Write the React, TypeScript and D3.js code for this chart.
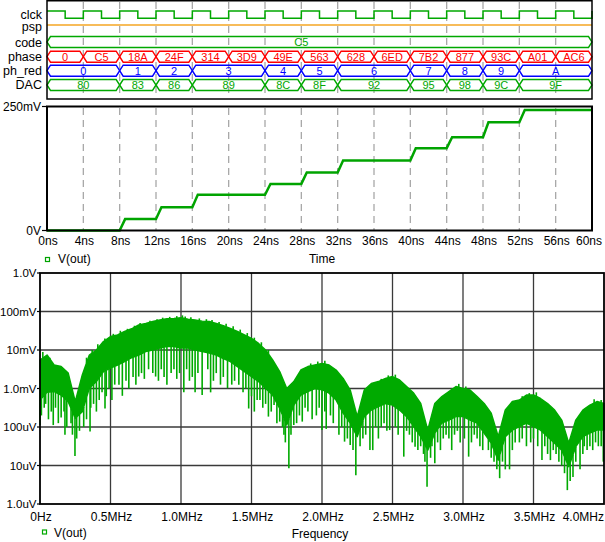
import React from 'react';
import * as d3 from 'd3';

// ---------- digital waveforms ----------
const timeTicks = [0, 4, 8, 12, 16, 20, 24, 28, 32, 36, 40, 44, 48, 52, 56, 60];
const timeTickLabels = ['0ns','4ns','8ns','12ns','16ns','20ns','24ns','28ns','32ns','36ns','40ns','44ns','48ns','52ns','56ns','60ns'];

const clkTimes = [0,2,4,6,8,10,12,14,16,18,20,22,24,26,28,30,32,34,36,38,40,42,44,46,48,50,52,54,56,58,60];
const clkLevels = [1,0,1,0,1,0,1,0,1,0,1,0,1,0,1,0,1,0,1,0,1,0,1,0,1,0,1,0,1,0,1];

const codeTimes = [-4];
const codeLabels = ['C5'];

const phaseTimes = [0,4,8,12,16,20,24,28,32,36,40,44,48,52,56];
const phaseLabels = ['0','C5','18A','24F','314','3D9','49E','563','628','6ED','7B2','877','93C','A01','AC6'];

const phRedTimes = [0,8,12,16,24,28,32,40,44,48,52];
const phRedLabels = ['0','1','2','3','4','5','6','7','8','9','A'];

const dacTimes = [0,8,12,16,24,28,32,40,44,48,52];
const dacLabels = ['80','83','86','89','8C','8F','92','95','98','9C','9F'];

// ---------- analog V(out) ----------
const voutTimes = [0, 8, 12, 16, 24, 28, 32, 40, 44, 48, 52];
const voutMv = [0, 23, 47, 72, 94, 117, 141, 166, 188, 218, 243];
const riseNs = 0.6;

// ---------- spectrum ----------
const specFreqMHz = [0,0.05,0.1,0.15,0.2,0.25,0.3,0.35,0.4,0.45,0.5,0.55,0.6,0.65,0.7,0.75,0.8,0.85,0.9,0.95,1.0,1.05,1.1,1.15,1.2,1.25,1.3,1.35,1.4,1.45,1.5,1.55,1.6,1.65,1.7,1.75,1.8,1.85,1.9,1.95,2.0,2.05,2.1,2.15,2.2,2.25,2.3,2.35,2.4,2.45,2.5,2.55,2.6,2.65,2.7,2.75,2.8,2.85,2.9,2.95,3.0,3.05,3.1,3.15,3.2,3.25,3.3,3.35,3.4,3.45,3.5,3.55,3.6,3.65,3.7,3.75,3.8,3.85,3.9,3.95,4.0];
const specHiLog10V = [-2.26,-2.13,-2.39,-2.43,-2.60,-3.34,-2.65,-2.13,-2.00,-1.78,-1.65,-1.61,-1.52,-1.45,-1.35,-1.31,-1.26,-1.22,-1.19,-1.18,-1.16,-1.20,-1.22,-1.25,-1.26,-1.31,-1.37,-1.44,-1.52,-1.61,-1.70,-1.83,-2.00,-2.26,-2.56,-3.00,-2.82,-2.52,-2.43,-2.39,-2.35,-2.39,-2.52,-2.74,-3.04,-3.73,-3.04,-2.87,-2.82,-2.74,-2.69,-2.78,-2.95,-3.12,-3.39,-4.08,-3.39,-3.21,-3.08,-2.95,-3.00,-3.04,-3.21,-3.39,-3.64,-4.25,-3.56,-3.34,-3.30,-3.17,-3.17,-3.26,-3.39,-3.56,-3.82,-4.42,-3.82,-3.56,-3.43,-3.34,-3.39];
const specLoLog10V = [-3.30,-3.10,-3.08,-3.17,-3.34,-3.77,-3.60,-2.99,-2.82,-2.56,-2.47,-2.39,-2.30,-2.20,-2.13,-2.04,-2.00,-1.95,-1.91,-1.91,-1.95,-1.95,-2.00,-2.04,-2.08,-2.13,-2.22,-2.30,-2.43,-2.56,-2.69,-2.82,-3.00,-3.17,-3.52,-3.95,-3.43,-3.17,-3.08,-3.00,-3.03,-3.12,-3.30,-3.64,-3.90,-4.25,-3.73,-3.56,-3.47,-3.39,-3.43,-3.56,-3.73,-3.99,-4.25,-4.60,-4.16,-3.90,-3.82,-3.73,-3.73,-3.82,-3.90,-4.16,-4.42,-4.86,-4.25,-4.08,-3.99,-3.90,-3.99,-4.08,-4.25,-4.42,-4.60,-5.03,-4.51,-4.25,-4.16,-4.08,-4.08];

// downward noise spikes (frequency MHz, log10 V)
const spikeFreqMHz = [0.0,0.01,0.03,0.04,0.06,0.08,0.094,0.11,0.13,0.15,0.17,0.177,0.19,0.22,0.23,0.248,0.26,0.28,0.31,0.33,0.355,0.36,0.38,0.40,0.42,0.44,0.461,0.47,0.49,0.51,0.53,0.56,0.584,0.61,0.63,0.66,0.68,0.70,0.72,0.74,0.77,0.80,0.82,0.84,0.86,0.88,0.90,0.93,0.95,0.97,0.99,1.02,1.04,1.06,1.08,1.10,1.12,1.15,1.19,1.21,1.23,1.25,1.28,1.30,1.33,1.36,1.38,1.41,1.44,1.46,1.48,1.50,1.52,1.54,1.56,1.58,1.60,1.62,1.64,1.66,1.68,1.70,1.72,1.73,1.74,1.765,1.78,1.80,1.82,1.84,1.86,1.88,1.90,1.93,1.96,1.98,2.00,2.02,2.03,2.06,2.08,2.12,2.14,2.16,2.18,2.20,2.22,2.24,2.27,2.29,2.31,2.34,2.36,2.38,2.40,2.42,2.44,2.46,2.48,2.52,2.54,2.58,2.60,2.62,2.64,2.66,2.68,2.70,2.72,2.73,2.745,2.77,2.78,2.80,2.82,2.84,2.86,2.88,2.90,2.92,2.94,2.96,2.98,3.01,3.04,3.06,3.08,3.10,3.12,3.14,3.18,3.20,3.22,3.24,3.26,3.28,3.30,3.33,3.35,3.37,3.40,3.42,3.45,3.48,3.50,3.53,3.56,3.58,3.60,3.62,3.64,3.66,3.68,3.70,3.72,3.74,3.76,3.78,3.80,3.83,3.85,3.86,3.88,3.90,3.92,3.94,3.96,3.98,3.995];
const spikeLog10V = [-3.95,-3.7,-3.5,-3.4,-3.8,-3.6,-3.95,-3.5,-3.9,-3.75,-3.6,-4.2,-4.0,-3.9,-4.2,-4.75,-4.3,-4.1,-4.0,-3.8,-4.12,-3.5,-3.4,-3.6,-3.3,-3.1,-3.52,-3.2,-3.0,-3.3,-2.9,-2.9,-3.19,-2.8,-3.0,-2.7,-2.9,-2.69,-2.6,-2.75,-2.5,-2.6,-2.69,-2.8,-2.5,-2.7,-2.9,-2.6,-2.5,-2.75,-2.6,-3.1,-2.5,-2.8,-2.7,-3.1,-2.6,-3.17,-2.5,-3.1,-2.8,-2.6,-2.9,-2.7,-2.99,-2.9,-2.8,-2.9,-3.1,-3.0,-3.52,-3.2,-3.6,-3.3,-3.3,-3.5,-3.4,-3.73,-3.6,-3.43,-3.9,-3.86,-4.0,-4.2,-4.4,-5.07,-4.2,-3.95,-3.9,-3.7,-3.86,-3.5,-3.6,-3.8,-3.7,-3.5,-4.08,-3.6,-4.05,-3.7,-3.9,-4.2,-4.0,-4.38,-4.3,-4.47,-4.6,-5.25,-4.5,-4.3,-4.2,-4.6,-4.6,-4.0,-4.3,-4.0,-3.9,-4.1,-4.08,-4.0,-4.2,-4.77,-4.1,-4.2,-4.4,-4.51,-4.6,-4.5,-4.7,-4.9,-5.55,-4.8,-4.5,-4.94,-4.4,-4.6,-4.3,-4.2,-4.3,-4.6,-4.2,-4.1,-4.4,-4.3,-4.77,-4.4,-4.2,-4.3,-4.5,-4.6,-4.6,-4.8,-4.9,-5.1,-5.33,-4.9,-5.1,-5.1,-4.6,-4.4,-4.4,-4.3,-4.5,-4.4,-4.3,-4.5,-4.86,-4.5,-4.7,-4.86,-4.6,-4.7,-4.9,-5.0,-5.2,-5.64,-5.4,-5.3,-4.9,-5.1,-4.7,-4.5,-4.6,-4.5,-4.6,-4.4,-4.5,-4.5,-4.9];

// upward noise peaks above the band (frequency MHz, log10 V)
const peakFreqMHz = [0.02,0.07,0.33,0.37,0.41,0.46,0.52,0.57,0.62,0.67,0.71,0.78,0.83,0.87,0.92,0.97,1.01,1.03,1.07,1.13,1.18,1.22,1.27,1.32,1.37,1.42,1.47,1.52,1.57,1.62,1.92,1.97,2.02,2.42,2.47,2.52,2.92,2.97,3.02,3.42,3.47,3.52,3.93,3.98];
const peakLog10V = [-2.05,-2.2,-2.2,-2.0,-1.85,-1.7,-1.58,-1.5,-1.45,-1.37,-1.3,-1.24,-1.2,-1.16,-1.14,-1.12,-1.1,-1.13,-1.15,-1.18,-1.2,-1.22,-1.27,-1.32,-1.38,-1.47,-1.56,-1.68,-1.8,-2.0,-2.35,-2.3,-2.28,-2.75,-2.66,-2.64,-3.0,-2.88,-2.95,-3.2,-3.12,-3.1,-3.28,-3.3];

const freqTicksMHz = [0,0.5,1.0,1.5,2.0,2.5,3.0,3.5,4.0];
const freqTickLabels = ['0Hz','0.5MHz','1.0MHz','1.5MHz','2.0MHz','2.5MHz','3.0MHz','3.5MHz','4.0MHz'];
const magTicks = [1e-6,1e-5,1e-4,1e-3,1e-2,1e-1,1];
const magTickLabels = ['1.0uV','10uV','100uV','1.0mV','10mV','100mV','1.0V'];

const FONT = '"Liberation Sans", Arial, sans-serif';
const GREEN = '#00a400';
const DGREEN = '#00a800';
const SPEC = '#00aa00';

type Seg = { a: number; b: number; label: string };
function segs(times: number[], labels: string[], end: number): Seg[] {
  return times.map((t, i) => ({ a: t, b: i + 1 < times.length ? times[i + 1] : end, label: labels[i] }));
}

export default function App() {
  const xT = d3.scaleLinear().domain([0, 60]).range([47, 592]);
  const yV = d3.scaleLinear().domain([0, 250]).range([230.5, 106.5]);
  const xF = d3.scaleLinear().domain([0, 4]).range([40, 604]);
  const yF = d3.scaleLog().domain([1e-6, 1]).range([504, 273]);

  const busH = 5.5;
  const slope = 3.5;
  const busPath = (s: Seg, yc: number) => {
    const x0 = xT(Math.max(0, s.a));
    const x1 = xT(Math.min(60, s.b));
    const p = d3.path();
    p.moveTo(x0, yc);
    p.lineTo(x0 + slope, yc - busH);
    p.lineTo(x1 - slope, yc - busH);
    p.lineTo(x1, yc);
    p.lineTo(x1 - slope, yc + busH);
    p.lineTo(x0 + slope, yc + busH);
    p.closePath();
    return p.toString();
  };

  const buses = [
    { name: 'code', yc: 42, base: 46, color: DGREEN, data: segs(codeTimes, codeLabels, 60) },
    { name: 'phase', yc: 56.7, base: 60.7, color: '#ff0000', data: segs(phaseTimes, phaseLabels, 60) },
    { name: 'ph_red', yc: 70.7, base: 74.7, color: '#0000ff', data: segs(phRedTimes, phRedLabels, 60) },
    { name: 'DAC', yc: 85, base: 89, color: DGREEN, data: segs(dacTimes, dacLabels, 60) },
  ];

  const clkLine = d3.line<[number, number]>().x(d => xT(d[0])).y(d => (d[1] ? 11 : 18.3)).curve(d3.curveStepAfter);
  const clkPath = clkLine(clkTimes.map((t, i) => [t, clkLevels[i]] as [number, number]));

  const voutPts: [number, number][] = [[0, voutMv[0]]];
  for (let i = 1; i < voutTimes.length; i++) {
    voutPts.push([voutTimes[i], voutMv[i - 1]]);
    voutPts.push([voutTimes[i] + riseNs, voutMv[i]]);
  }
  voutPts.push([60, voutMv[voutMv.length - 1]]);
  const voutPath = d3.line<[number, number]>().x(d => xT(d[0])).y(d => yV(d[1]))(voutPts);

  const band = specFreqMHz.map((f, i) => ({ f, hi: Math.pow(10, specHiLog10V[i]), lo: Math.pow(10, specLoLog10V[i]) }));
  const areaPath = d3.area<typeof band[0]>().x(d => xF(d.f)).y0(d => yF(d.lo)).y1(d => yF(d.hi))(band);
  const loAt = d3.scaleLinear().domain(specFreqMHz).range(specLoLog10V);
  const hiAt = d3.scaleLinear().domain(specFreqMHz).range(specHiLog10V);

  const gridDash = '7,5';
  const labelStyle = { fontFamily: FONT, fontSize: 12.5, fill: '#000' } as const;
  const tickStyle = { fontFamily: FONT, fontSize: 12, fill: '#000' } as const;
  const magStyle = { fontFamily: FONT, fontSize: 11.5, fill: '#000' } as const;

  return (
    <div style={{ position: 'absolute', left: 0, top: 0 }}>
      <svg width={605} height={542} style={{ display: 'block', background: '#fff' }}>
        <rect x={0} y={0} width={605} height={542} fill="#fff" />

        {/* ===== digital panel ===== */}
        {timeTicks.slice(1, -1).map(t => (
          <line key={'dg' + t} x1={xT(t)} x2={xT(t)} y1={2} y2={98} stroke="#a8a8a8" strokeWidth={1.3} strokeDasharray={gridDash} />
        ))}
        {['clck', 'psp', 'code', 'phase', 'ph_red', 'DAC'].map((n, i) => (
          <text key={n} x={42} y={[18.5, 31, 46.5, 60.7, 74.5, 89][i]} textAnchor="end" style={labelStyle}>{n}</text>
        ))}
        <path d={clkPath || ''} fill="none" stroke={DGREEN} strokeWidth={1.5} />
        <line x1={xT(0)} x2={xT(60)} y1={25} y2={25} stroke="#f5a623" strokeWidth={1.5} />
        {buses.map(bus => (
          <g key={bus.name}>
            {bus.data.map((s, i) => (
              <g key={i}>
                <path d={busPath(s, bus.yc)} fill="none" stroke={bus.color} strokeWidth={1.4} />
                <text x={xT((s.a + s.b) / 2)} y={bus.base} textAnchor="middle"
                  style={{ fontFamily: FONT, fontSize: 11, fill: bus.color }}>{s.label}</text>
              </g>
            ))}
          </g>
        ))}
        <rect x={47} y={0.75} width={545} height={98.25} fill="none" stroke="#000" strokeWidth={1.5} />

        {/* ===== analog panel ===== */}
        {timeTicks.slice(1, -1).map(t => (
          <line key={'ag' + t} x1={xT(t)} x2={xT(t)} y1={108} y2={230} stroke="#a8a8a8" strokeWidth={1.3} strokeDasharray={gridDash} />
        ))}
        <path d={voutPath || ''} fill="none" stroke={GREEN} strokeWidth={2.5} />
        <rect x={47} y={106.5} width={545} height={124} fill="none" stroke="#000" strokeWidth={2} />
        {[250, 0].map((v, i) => (
          <g key={'vy' + v}>
            <line x1={42} x2={47} y1={yV(v)} y2={yV(v)} stroke="#000" strokeWidth={1.2} />
            <text x={41} y={yV(v) + 4.3} textAnchor="end" style={tickStyle}>{['250mV', '0V'][i]}</text>
          </g>
        ))}
        {timeTicks.map((t, i) => (
          <text key={'tx' + t} x={i === timeTicks.length - 1 ? 602 : xT(t) + 1} y={245} textAnchor={i === timeTicks.length - 1 ? 'end' : 'middle'} style={tickStyle}>{timeTickLabels[i]}</text>
        ))}
        <rect x={45.5} y={257.5} width={4} height={4} fill="none" stroke={GREEN} strokeWidth={1.2} />
        <text x={58} y={263} style={tickStyle}>V(out)</text>
        <text x={322} y={263} textAnchor="middle" style={tickStyle}>Time</text>

        {/* ===== spectrum panel ===== */}
        {freqTicksMHz.slice(1, -1).map(f => (
          <line key={'fg' + f} x1={xF(f)} x2={xF(f)} y1={273} y2={504} stroke="#3a3a3a" strokeWidth={1.3} />
        ))}
        {magTicks.slice(1, -1).map(m => (
          <line key={'mg' + m} x1={40} x2={604} y1={yF(m)} y2={yF(m)} stroke="#3a3a3a" strokeWidth={1.3} />
        ))}
        <path d={areaPath || ''} fill={SPEC} stroke={SPEC} strokeWidth={1.5} strokeLinejoin="round" />
        {spikeFreqMHz.map((f, i) => (
          <line key={'sp' + i} x1={xF(f)} x2={xF(f)} y1={yF(Math.pow(10, loAt(f)))} y2={yF(Math.pow(10, spikeLog10V[i]))}
            stroke={SPEC} strokeWidth={1.6} />
        ))}
        {peakFreqMHz.map((f, i) => (
          <line key={'pk' + i} x1={xF(f)} x2={xF(f)} y1={yF(Math.pow(10, hiAt(f)))} y2={yF(Math.pow(10, peakLog10V[i]))}
            stroke={SPEC} strokeWidth={1.6} />
        ))}
        <rect x={40} y={273} width={564} height={231} fill="none" stroke="#000" strokeWidth={1.8} />
        {magTicks.map((m, i) => (
          <g key={'my' + m}>
            <line x1={37} x2={40} y1={yF(m)} y2={yF(m)} stroke="#000" strokeWidth={1.2} />
            <text x={36.5} y={yF(m) + 4.2} textAnchor="end" style={magStyle}>{magTickLabels[i]}</text>
          </g>
        ))}
        {freqTicksMHz.map((f, i) => (
          <text key={'fx' + f} x={i === freqTicksMHz.length - 1 ? 604 : xF(f) + 1} y={521} textAnchor={i === freqTicksMHz.length - 1 ? 'end' : 'middle'} style={tickStyle}>{freqTickLabels[i]}</text>
        ))}
        <rect x={42.5} y={530} width={4} height={4} fill="none" stroke={SPEC} strokeWidth={1.2} />
        <text x={54} y={537} style={tickStyle}>V(out)</text>
        <text x={320} y={538} textAnchor="middle" style={tickStyle}>Frequency</text>
      </svg>
    </div>
  );
}
